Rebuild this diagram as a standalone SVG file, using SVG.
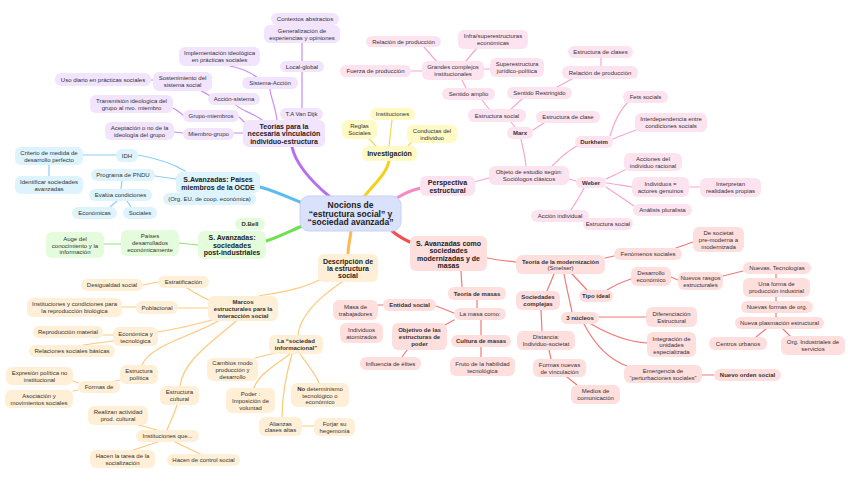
<svg xmlns="http://www.w3.org/2000/svg" width="848" height="490" viewBox="0 0 848 490">
<style>
text{font-family:"Liberation Sans",Arial,sans-serif;font-size:6px;fill:#333;text-anchor:middle}
.b{font-weight:bold}
.m{font-size:7px;font-weight:bold;fill:#222}
.c{font-size:8.5px;font-weight:bold;fill:#222}
rect{rx:6;ry:6}
.pu rect{fill:#f2e4fc}.ye rect{fill:#fffac4}.pk rect{fill:#fde3ef}.rd rect{fill:#ffdede}
.or rect{fill:#ffefd7}.gr rect{fill:#e4fcdc}.bl rect{fill:#ddf3fd}
#links path{fill:none;stroke-width:1.2;stroke-linecap:round}
#links .T{stroke-width:3}
.lpu{stroke:#c98cf4}.lye{stroke:#f6d84c}.lpk{stroke:#f8a6cf}.lrd{stroke:#f47878}.lor{stroke:#ffc97a}.lgr{stroke:#86e86a}.lbl{stroke:#8ad0f4}
</style>
<rect width="848" height="490" fill="#fff" style="rx:0"/>
<g id="links">
<path class="T" stroke="#b86ef2" d="M292 147C296 165 312 182 330 197"/>
<path class="T" stroke="#f7cf1a" d="M389 161C386 175 372 186 364 197"/>
<path class="T" stroke="#f78bbf" d="M421 188C412 190 403 194 397 198"/>
<path class="T" stroke="#f24f4f" d="M392 231C398 236 405 240 412 243"/>
<path class="T" stroke="#ffb84d" d="M351 231C350 240 348 247 348 254"/>
<path class="T" stroke="#6fe04f" d="M302 226C288 232 276 238 266 241"/>
<path class="T" stroke="#5bbcf0" d="M302 203C290 198 275 191 260 187"/>
<path class="lpu" d="M302 43L302 61M302 72L302 108M277 120C275 105 270 95 270 89M258 78C250 72 240 68 230 66M262 120C255 114 240 110 236 105M198 89C203 92 206 93 210 96M151 80L153 80M246 124C244 121 241 119 239 117M173 108C177 110 180 113 183 115M243 133L234 133M174 132L183 133"/>
<path class="lye" d="M392 120L389 146M369 139L376 146M412 142L408 146"/>
<path class="lpk" d="M474 182L489 178M526 166C525 155 522 145 521 139M515 127L511 122M489 109L482 100M466 88L462 80M437 62L424 47M411 71L422 71M466 61L476 49M484 69L490 69M511 109L522 99M557 87L572 79M601 58L601 66M533 130L544 123M552 166C560 158 568 150 577 146M610 136C614 122 620 110 628 102M613 139C620 136 628 133 636 130M569 179L576 181M606 179C613 176 620 172 627 169M606 183C615 184 624 186 632 187M606 187C615 193 625 200 634 206M584 188C580 196 575 204 571 210M689 187L700 187"/>
<path class="lrd" d="M487 258C497 260 507 261 516 262M605 258L614 256M676 248L693 242M461 271L462 287M477 300L477 308M436 306L454 313M378 305L383 305M454 320L443 326M481 320L481 335M481 347L481 357M407 350L402 357M554 274L547 291M541 310L542 331M549 350L551 359M567 377L577 385M572 274L587 290M564 274C567 290 570 302 572 312M607 290C615 285 625 281 631 279M671 277L678 280M723 276L743 271M776 274L776 278M776 297L776 301M776 313L776 317M766 329L756 337M783 329L790 336M599 317L646 317M591 324C610 335 630 342 647 343M584 324C595 345 610 360 627 366M702 375L714 375"/>
<path class="lor" d="M319 280C300 290 275 293 259 296M342 282C318 298 300 315 298 335M143 285L158 282M187 288C195 293 203 298 212 301M122 307L136 307M178 308L208 308M212 320C190 326 170 330 158 332M103 335L113 335M113 341L83 345M218 321C195 335 150 345 142 365M236 321C215 340 183 360 180 386M120 380L115 381M78 383L73 381M78 390L73 391M177 405C174 415 170 422 167 430M157 430L135 424M158 442L133 450M175 442L200 454M275 353L255 358M290 354C275 365 258 375 254 388M292 354C286 375 282 400 282 417M300 354C308 365 316 375 319 383M302 426L314 426"/>
<path class="lgr" d="M104 244L121 244M179 243L198 245"/>
<path class="lbl" d="M83 155L116 155M49 165L49 176M138 155C155 158 172 163 185 171M155 176L176 179M122 181L121 189M117 201L110 207M127 201L131 207"/>
</g>

<g id="central"><rect x="300" y="196" width="101" height="35" style="rx:9;ry:9" fill="#dae1fb" stroke="#c9d1f6"/><text class="c" x="350.5" y="207.8">Nocions de</text><text class="c" x="350.5" y="216.5">“estructura social” y</text><text class="c" x="350.5" y="225.2">“sociedad avanzada”</text></g>

<g class="pu">
<g id="teorias"><rect x="243" y="120" width="82" height="27"/><text class="m" x="284" y="128.5">Teorías para la</text><text class="m" x="284" y="136">necesaria vinculación</text><text class="m" x="284" y="143.5">individuo-estructura</text></g>
<g id="vandijk"><rect x="280" y="108" width="43" height="12"/><text x="301.5" y="116">T.A Van Dijk</text></g>
<g id="localglobal"><rect x="280" y="61" width="44" height="11"/><text x="302" y="68.5">Local-global</text></g>
<g id="generalizacion"><rect x="264" y="25" width="76" height="18"/><text x="302" y="32.5">Generalización de</text><text x="302" y="39.5">experiencias y opiniones</text></g>
<g id="contextos"><rect x="271" y="13" width="68" height="12"/><text x="305" y="21">Contextos abstractos</text></g>
<g id="sistemaaccion"><rect x="242" y="77" width="56" height="12"/><text x="270" y="85">Sistema-Acción</text></g>
<g id="implementacion"><rect x="179" y="47" width="81" height="19"/><text x="219.5" y="55">Implementación ideológica</text><text x="219.5" y="62">en prácticas sociales</text></g>
<g id="accionsistema"><rect x="208" y="93" width="52" height="12"/><text x="234" y="101">Acción-sistema</text></g>
<g id="sostenimiento"><rect x="153" y="72" width="59" height="19"/><text x="182.5" y="80">Sostenimiento del</text><text x="182.5" y="87">sistema social</text></g>
<g id="usodiario"><rect x="55" y="73" width="96" height="13"/><text x="103" y="81.5">Uso diario en prácticas sociales</text></g>
<g id="grupomiembros"><rect x="183" y="110" width="56" height="12"/><text x="211" y="118">Grupo-miembros</text></g>
<g id="transmision"><rect x="90" y="95" width="83" height="18"/><text x="131.5" y="102.5">Transmisión ideologica del</text><text x="131.5" y="109.5">grupo al nvo. miembro</text></g>
<g id="miembrogrupo"><rect x="183" y="128" width="51" height="12"/><text x="208.5" y="136">Miembro-grupo</text></g>
<g id="aceptacion"><rect x="105" y="122" width="69" height="18"/><text x="139.5" y="129.5">Aceptación o no de la</text><text x="139.5" y="136.5">ideología del grupo</text></g>
</g>

<g class="ye">
<g id="investigacion"><rect x="362" y="146" width="55" height="15"/><text class="m" x="389.5" y="155.5">Investigación</text></g>
<g id="instituciones"><rect x="370" y="108" width="45" height="12"/><text x="392.5" y="116">Instituciones</text></g>
<g id="reglas"><rect x="342" y="120" width="35" height="19"/><text x="359.5" y="128">Reglas</text><text x="359.5" y="135">Sociales</text></g>
<g id="conductas"><rect x="407" y="125" width="50" height="18"/><text x="432" y="132.5">Conductas del</text><text x="432" y="139.5">individuo</text></g>
</g>

<g class="pk">
<g id="perspectiva"><rect x="420" y="176" width="55" height="20"/><text class="m" x="447.5" y="185">Perspectiva</text><text class="m" x="447.5" y="192.5">estructural</text></g>
<g id="objeto"><rect x="489" y="166" width="80" height="19"/><text x="529" y="174">Objeto de estudio según:</text><text x="529" y="181">Sociólogos clásicos</text></g>
<g id="marx"><rect x="507" y="127" width="26" height="12"/><text class="b" x="520" y="135">Marx</text></g>
<g id="estructurasocial1"><rect x="468" y="109" width="58" height="13"/><text x="497" y="117.5">Estructura social</text></g>
<g id="sentidoamplio"><rect x="442" y="88" width="53" height="12"/><text x="468.5" y="96">Sentido amplio</text></g>
<g id="grandes"><rect x="422" y="61" width="62" height="19"/><text x="453" y="69">Grandes complejos</text><text x="453" y="76">institucionales</text></g>
<g id="relacion1"><rect x="366" y="36" width="75" height="11"/><text x="403.5" y="43.5">Relación de producción</text></g>
<g id="fuerza"><rect x="340" y="65" width="71" height="12"/><text x="375.5" y="73">Fuerza de producción</text></g>
<g id="infra"><rect x="458" y="30" width="70" height="19"/><text x="493" y="38">Infra/superestructuras</text><text x="493" y="45">económicas</text></g>
<g id="superestructura"><rect x="490" y="58" width="54" height="19"/><text x="517" y="66">Superestructura</text><text x="517" y="73">jurídico-política</text></g>
<g id="restringido"><rect x="507" y="87" width="65" height="12"/><text x="539.5" y="95">Sentido Restringido</text></g>
<g id="relacion2"><rect x="562" y="66" width="76" height="13"/><text x="600" y="74.5">Relación de producción</text></g>
<g id="clases"><rect x="568" y="46" width="65" height="12"/><text x="600.5" y="54">Estructura de clases</text></g>
<g id="clase"><rect x="536" y="111" width="64" height="12"/><text x="568" y="119">Estructura de clase</text></g>
<g id="durkheim"><rect x="575" y="136" width="38" height="12"/><text class="b" x="594" y="144">Durkheim</text></g>
<g id="fets"><rect x="623" y="91" width="45" height="12"/><text x="645.5" y="99">Fets socials</text></g>
<g id="interdependencia"><rect x="635" y="113" width="72" height="19"/><text x="671" y="121">Interdependencia entre</text><text x="671" y="128">condiciones socials</text></g>
<g id="weber"><rect x="576" y="177" width="30" height="11"/><text class="b" x="591" y="184.5">Weber</text></g>
<g id="acciones"><rect x="624" y="153" width="58" height="18"/><text x="653" y="160.5">Acciones del</text><text x="653" y="167.5">individuo racional</text></g>
<g id="individuos"><rect x="632" y="177" width="57" height="20"/><text x="660.5" y="185.5">Individuos =</text><text x="660.5" y="192.5">actores genuinos</text></g>
<g id="interpretan"><rect x="700" y="178" width="61" height="19"/><text x="730.5" y="186">Interpretan</text><text x="730.5" y="193">realidades propias</text></g>
<g id="analisis"><rect x="633" y="204" width="59" height="12"/><text x="662.5" y="212">Análisis pluralista</text></g>
<g id="accionindividual"><rect x="531" y="210" width="58" height="12"/><text x="560" y="218">Acción individual</text></g>
<g id="estructurasocial2"><rect x="583" y="218" width="50" height="12"/><text x="608" y="226">Estructura social</text></g>
</g>

<g class="rd">
<g id="modernizadas"><rect x="410" y="236" width="77" height="35"/><text class="m" x="448.5" y="245.5">S. Avanzadas como</text><text class="m" x="448.5" y="253">sociedades</text><text class="m" x="448.5" y="260.5">modernizadas y de</text><text class="m" x="448.5" y="268">masas</text></g>
<g id="modernizacion"><rect x="516" y="255" width="89" height="19"/><text class="b" x="560.5" y="263.5">Teoría de la modernización</text><text x="560.5" y="270">(Smelser)</text></g>
<g id="fenomenos"><rect x="614" y="248" width="68" height="12"/><text x="648" y="256">Fenómenos sociales</text></g>
<g id="desocietat"><rect x="693" y="227" width="51" height="25"/><text x="718.5" y="235">De societat</text><text x="718.5" y="242">pre-moderna a</text><text x="718.5" y="248.5">modernizada</text></g>
<g id="teoriamasas"><rect x="448" y="287" width="58" height="13"/><text class="b" x="477" y="295.5">Teoría de masas</text></g>
<g id="masacomo"><rect x="454" y="308" width="52" height="12"/><text x="480" y="316">La masa como:</text></g>
<g id="entidad"><rect x="383" y="299" width="53" height="12"/><text class="b" x="409.5" y="307">Entidad social</text></g>
<g id="masatrab"><rect x="333" y="300" width="45" height="20"/><text x="355.5" y="308.5">Masa de</text><text x="355.5" y="315.5">trabajadores</text></g>
<g id="atomizados"><rect x="340" y="323" width="43" height="20"/><text x="361.5" y="331.5">Individuos</text><text x="361.5" y="338.5">atomizados</text></g>
<g id="objetivo"><rect x="392" y="323" width="55" height="27"/><text class="b" x="419.5" y="332">Objetivo de las</text><text class="b" x="419.5" y="339">estructuras de</text><text class="b" x="419.5" y="346">poder</text></g>
<g id="elites"><rect x="360" y="357" width="61" height="13"/><text x="390.5" y="365.5">Influencia de élites</text></g>
<g id="culturamasas"><rect x="451" y="335" width="60" height="12"/><text class="b" x="481" y="343">Cultura de masas</text></g>
<g id="fruto"><rect x="450" y="357" width="65" height="19"/><text x="482.5" y="365.5">Fruto de la habilidad</text><text x="482.5" y="372.5">tecnológica</text></g>
<g id="complejas"><rect x="516" y="291" width="44" height="19"/><text class="b" x="538" y="299">Sociedades</text><text class="b" x="538" y="306">complejas</text></g>
<g id="distancia"><rect x="517" y="331" width="58" height="19"/><text x="546" y="339">Distancia:</text><text x="546" y="346">Individuo-societat</text></g>
<g id="formasnuevas"><rect x="533" y="359" width="53" height="18"/><text x="559.5" y="367">Formas nuevas</text><text x="559.5" y="374">de vinculación</text></g>
<g id="medios"><rect x="571" y="385" width="49" height="19"/><text x="595.5" y="393">Medios de</text><text x="595.5" y="400">comunicación</text></g>
<g id="tipoideal"><rect x="579" y="290" width="34" height="12"/><text class="b" x="596" y="298">Tipo ideal</text></g>
<g id="desarrollo"><rect x="631" y="267" width="40" height="19"/><text x="651" y="275">Desarrollo</text><text x="651" y="282">económico</text></g>
<g id="rasgos"><rect x="678" y="272" width="45" height="18"/><text x="700.5" y="280">Nuevos rasgos</text><text x="700.5" y="287">estructurales</text></g>
<g id="tecnologias"><rect x="743" y="262" width="68" height="12"/><text x="777" y="270">Nuevas. Tecnologías</text></g>
<g id="unaforma"><rect x="743" y="278" width="67" height="19"/><text x="776.5" y="286">Una forma de</text><text x="776.5" y="293">producción industrial</text></g>
<g id="formasorg"><rect x="741" y="301" width="72" height="12"/><text x="777" y="309">Nuevas formas de org.</text></g>
<g id="plasmacion"><rect x="735" y="317" width="89" height="12"/><text x="779.5" y="325">Nueva plasmación estructural</text></g>
<g id="centros"><rect x="709" y="337" width="58" height="13"/><text x="738" y="345.5">Centros urbanos</text></g>
<g id="orgind"><rect x="781" y="336" width="64" height="19"/><text x="813" y="344">Org. Industriales de</text><text x="813" y="351">servicios</text></g>
<g id="nucleos"><rect x="561" y="312" width="38" height="12"/><text class="b" x="580" y="320">3 núcleos</text></g>
<g id="diferenciacion"><rect x="646" y="307" width="51" height="20"/><text x="671.5" y="315.5">Diferenciación</text><text x="671.5" y="322.5">Estructural</text></g>
<g id="integracion"><rect x="647" y="332" width="49" height="25"/><text x="671.5" y="340.5">Integración de</text><text x="671.5" y="347">unidades</text><text x="671.5" y="353.5">especializada</text></g>
<g id="emergencia"><rect x="624" y="365" width="78" height="18"/><text x="663" y="373">Emergencia de</text><text x="663" y="380">“perturbaciones sociales”</text></g>
<g id="nuevoorden"><rect x="714" y="369" width="67" height="12"/><text class="b" x="747.5" y="377">Nuevo orden social</text></g>
</g>

<g class="or">
<g id="descripcion"><rect x="318" y="254" width="60" height="28"/><text class="m" x="348" y="264">Descripción de</text><text class="m" x="348" y="271">la estructura</text><text class="m" x="348" y="278">social</text></g>
<g id="marcos"><rect x="208" y="296" width="70" height="25"/><text class="b" x="243" y="304">Marcos</text><text class="b" x="243" y="311">estructurales para la</text><text class="b" x="243" y="318">interacción social</text></g>
<g id="estratificacion"><rect x="158" y="276" width="51" height="12"/><text x="183.5" y="284">Estratificación</text></g>
<g id="desigualdad"><rect x="81" y="279" width="62" height="12"/><text x="112" y="287">Desigualdad social</text></g>
<g id="poblacional"><rect x="136" y="301" width="42" height="13"/><text x="157" y="309.5">Poblacional</text></g>
<g id="reproduccionbio"><rect x="27" y="298" width="95" height="19"/><text x="74.5" y="306">Instituciones y condiciones para</text><text x="74.5" y="313">la reproducción biológica</text></g>
<g id="economica"><rect x="113" y="327" width="45" height="19"/><text x="135.5" y="335.5">Económica y</text><text x="135.5" y="342.5">tecnológica</text></g>
<g id="reproduccion"><rect x="33" y="326" width="70" height="12"/><text x="68" y="334">Reproducción material</text></g>
<g id="relaciones"><rect x="29" y="345" width="86" height="12"/><text x="72" y="353">Relaciones sociales básicas</text></g>
<g id="politica"><rect x="120" y="365" width="38" height="19"/><text x="139" y="373">Estructura</text><text x="139" y="380">política</text></g>
<g id="formasde"><rect x="78" y="381" width="42" height="12"/><text x="99" y="389">Formas de</text></g>
<g id="expresion"><rect x="6" y="367" width="67" height="18"/><text x="39.5" y="375">Expresión política no</text><text x="39.5" y="382">institucional</text></g>
<g id="asociacion"><rect x="5" y="390" width="68" height="18"/><text x="39" y="398">Asociación y</text><text x="39" y="405">movimientos sociales</text></g>
<g id="cultural"><rect x="160" y="386" width="39" height="19"/><text x="179.5" y="394">Estructura</text><text x="179.5" y="401">cultural</text></g>
<g id="realizan"><rect x="88" y="406" width="60" height="19"/><text x="118" y="414">Realizan actividad</text><text x="118" y="421">prod. cultural</text></g>
<g id="institucionesque"><rect x="136" y="430" width="63" height="12"/><text x="167.5" y="438">Instituciones que...</text></g>
<g id="socializacion"><rect x="90" y="450" width="65" height="18"/><text x="122.5" y="458">Hacen la tarea de la</text><text x="122.5" y="465">socialización</text></g>
<g id="control"><rect x="167" y="454" width="73" height="12"/><text x="203.5" y="462">Hacen de control social</text></g>
<g id="informacional"><rect x="269" y="335" width="54" height="19"/><text class="b" x="296" y="343">La “sociedad</text><text class="b" x="296" y="350">informacional”</text></g>
<g id="cambios"><rect x="207" y="358" width="51" height="23"/><text x="232.5" y="365">Cambios modo</text><text x="232.5" y="372">producción y</text><text x="232.5" y="379">desarrollo</text></g>
<g id="poder"><rect x="226" y="388" width="49" height="25"/><text x="250.5" y="396">Poder :</text><text x="250.5" y="403">Imposición de</text><text x="250.5" y="409.5">voluntad</text></g>
<g id="nodeterminismo"><rect x="291" y="383" width="58" height="24"/><text x="320" y="390.5"><tspan class="b">No</tspan> determinismo</text><text x="320" y="397.5">tecnológico o</text><text x="320" y="404">económico</text></g>
<g id="alianzas"><rect x="259" y="417" width="43" height="19"/><text x="280.5" y="425.5">Alianzas</text><text x="280.5" y="432">clases altas</text></g>
<g id="forjar"><rect x="314" y="418" width="41" height="18"/><text x="334.5" y="426">Forjar su</text><text x="334.5" y="433">hegemonía</text></g>
</g>

<g class="gr">
<g id="postindustriales"><rect x="198" y="231" width="68" height="28"/><text class="m" x="232" y="240">S. Avanzadas:</text><text class="m" x="232" y="247.5">sociedades</text><text class="m" x="232" y="255">post-industriales</text></g>
<g id="dbell"><rect x="235" y="218" width="30" height="12"/><text class="b" x="250" y="226">D.Bell</text></g>
<g id="paises"><rect x="121" y="230" width="58" height="26"/><text x="150" y="238">Países</text><text x="150" y="245">desarrollados</text><text x="150" y="252">económicamente</text></g>
<g id="auge"><rect x="46" y="232" width="58" height="26"/><text x="75" y="240.5">Auge del</text><text x="75" y="247.5">conocimiento y la</text><text x="75" y="254">información</text></g>
</g>

<g class="bl">
<g id="ocde"><rect x="176" y="172" width="84" height="21"/><text class="m" x="218" y="181.5">S.Avanzadas: Países</text><text class="m" x="218" y="189.5">miembros de la OCDE</text></g>
<g id="orgeu"><rect x="163" y="193" width="93" height="12"/><text x="209.5" y="201">(Org. EU. de coop. económica)</text></g>
<g id="idh"><rect x="116" y="149" width="22" height="13"/><text x="127" y="157.5">IDH</text></g>
<g id="criterio"><rect x="15" y="147" width="68" height="18"/><text x="49" y="154.5">Criterio de medida de</text><text x="49" y="161.5">desarrollo perfecto</text></g>
<g id="identificar"><rect x="15" y="176" width="68" height="18"/><text x="49" y="183.5">Identificar sociedades</text><text x="49" y="190.5">avanzadas</text></g>
<g id="pndu"><rect x="91" y="169" width="64" height="12"/><text x="123" y="177">Programa de PNDU</text></g>
<g id="evalua"><rect x="89" y="189" width="63" height="12"/><text x="120.5" y="197">Evalúa condiciones</text></g>
<g id="economicas"><rect x="72" y="207" width="45" height="12"/><text x="94.5" y="215">Económicas</text></g>
<g id="sociales"><rect x="123" y="207" width="34" height="12"/><text x="140" y="215">Sociales</text></g>
</g>
</svg>
